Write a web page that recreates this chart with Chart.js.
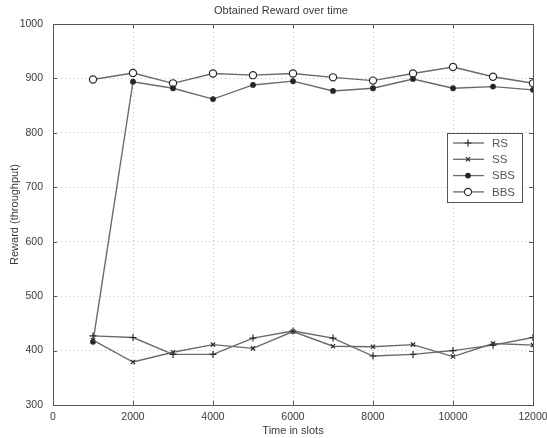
<!DOCTYPE html>
<html>
<head>
<meta charset="utf-8">
<script src="https://cdn.jsdelivr.net/npm/chart.js@4.4.1/dist/chart.umd.min.js"></script>
<style>
  html, body { margin: 0; padding: 0; background: #fff; }
  #wrap { width: 547px; height: 438px; }
</style>
</head>
<body>
<div id="wrap"><canvas id="rewardChart" width="547" height="438"></canvas></div>
<script>
// values
const timeSlots = [1000, 2000, 3000, 4000, 5000, 6000, 7000, 8000, 9000, 10000, 11000, 12000];
const rsValues  = [427, 424, 393, 393, 423, 436, 423, 390, 393, 400, 410, 424];
const ssValues  = [419, 379, 397, 411, 404, 435, 408, 407, 411, 389, 413, 410];
const sbsValues = [416, 894, 882, 862, 888, 895, 877, 882, 899, 882, 885, 879];
const bbsValues = [898, 910, 891, 909, 906, 909, 902, 896, 909, 921, 903, 891];
const xTicks = [0, 2000, 4000, 6000, 8000, 10000, 12000];
const yTicks = [300, 400, 500, 600, 700, 800, 900, 1000];

const FONT = "'Liberation Sans', Arial, sans-serif";
const LINE = '#6a6a6a';
const INK = '#3a3a3a';

function pts(vals) {
  return vals.map((v, i) => ({ x: timeSlots[i], y: v }));
}

const series = [
  { label: 'RS',  data: rsValues,  style: 'cross',    radius: 3.5, fill: INK },
  { label: 'SS',  data: ssValues,  style: 'crossRot', radius: 3,   fill: INK },
  { label: 'SBS', data: sbsValues, style: 'circle',   radius: 2.3, fill: '#222' },
  { label: 'BBS', data: bbsValues, style: 'circle',   radius: 3.6, fill: '#fff' },
];

// frame, inward ticks, title and the legend box, MATLAB style
const extras = {
  id: 'extras',
  afterDraw(chart) {
    const ctx = chart.ctx;
    const a = chart.chartArea;
    const xs = chart.scales.x, ys = chart.scales.y;
    ctx.save();
    ctx.strokeStyle = '#555';
    ctx.lineWidth = 1;
    ctx.strokeRect(a.left + 0.5, a.top + 0.5, a.right - a.left, a.bottom - a.top);
    ctx.beginPath();
    xTicks.forEach(t => {
      const px = Math.round(xs.getPixelForValue(t)) + 0.5;
      ctx.moveTo(px, a.bottom); ctx.lineTo(px, a.bottom - 4);
      ctx.moveTo(px, a.top); ctx.lineTo(px, a.top + 4);
    });
    yTicks.forEach(t => {
      const py = Math.round(ys.getPixelForValue(t)) + 0.5;
      ctx.moveTo(a.left, py); ctx.lineTo(a.left + 4, py);
      ctx.moveTo(a.right, py); ctx.lineTo(a.right - 4, py);
    });
    ctx.stroke();

    // title
    ctx.fillStyle = INK;
    ctx.font = '11px ' + FONT;
    ctx.textAlign = 'center';
    ctx.textBaseline = 'middle';
    ctx.fillText('Obtained Reward over time', 281, 11);

    // legend
    const bx = 447, by = 133, bw = 75, bh = 69;
    ctx.fillStyle = '#fff';
    ctx.fillRect(bx, by, bw, bh);
    ctx.strokeStyle = '#555';
    ctx.strokeRect(bx + 0.5, by + 0.5, bw, bh);
    ctx.font = '11.5px ' + FONT;
    ctx.textAlign = 'left';
    chart.data.datasets.forEach((ds, i) => {
      const y = by + 10 + i * 16.3;
      ctx.strokeStyle = LINE;
      ctx.lineWidth = 1.3;
      ctx.beginPath();
      ctx.moveTo(bx + 6, y); ctx.lineTo(bx + 37, y);
      ctx.stroke();
      ctx.strokeStyle = '#2a2a2a';
      ctx.fillStyle = ds.pointBackgroundColor;
      ctx.lineWidth = 1.2;
      Chart.helpers.drawPoint(ctx, {
        pointStyle: ds.pointStyle, radius: ds.pointRadius, borderWidth: 1.2, rotation: 0
      }, bx + 21, y);
      ctx.fillStyle = '#555';
      ctx.fillText(ds.label, bx + 45, y + 0.5);
    });
    ctx.restore();
  }
};

const plain = v => String(v);

new Chart(document.getElementById('rewardChart'), {
  type: 'line',
  data: {
    datasets: series.map(s => ({
      label: s.label,
      data: pts(s.data),
      borderColor: LINE,
      borderWidth: 1.4,
      pointStyle: s.style,
      pointRadius: s.radius,
      pointBorderColor: '#2a2a2a',
      pointBackgroundColor: s.fill,
      pointBorderWidth: 1.2,
      tension: 0,
    }))
  },
  options: {
    responsive: false,
    animation: false,
    layout: { padding: { top: 24, right: 0, left: 0, bottom: 0 } },
    plugins: {
      legend: { display: false },
      title: { display: false },
      tooltip: { enabled: false },
    },
    scales: {
      x: {
        type: 'linear',
        min: 0, max: 12000,
        afterBuildTicks: sc => { sc.ticks = xTicks.map(v => ({ value: v })); },
        afterFit: sc => { sc.height = 33; sc.paddingRight = 14; sc.paddingLeft = 0; },
        grid: { color: '#c4c4c4', lineWidth: 1, drawTicks: false },
        border: { display: false, dash: [1, 3] },
        ticks: { color: INK, font: { family: FONT, size: 10.5 }, padding: 6, maxRotation: 0, callback: plain },
        title: { display: true, text: 'Time in slots', color: INK, font: { family: FONT, size: 11 }, padding: { top: 1, bottom: 0 } },
      },
      y: {
        type: 'linear',
        min: 300, max: 1000,
        afterBuildTicks: sc => { sc.ticks = yTicks.map(v => ({ value: v })); },
        afterFit: sc => { sc.width = 53; },
        grid: { color: '#c4c4c4', lineWidth: 1, drawTicks: false },
        border: { display: false, dash: [1, 3] },
        ticks: { color: INK, font: { family: FONT, size: 10.5 }, padding: 10, callback: plain },
        title: { display: true, text: 'Reward (throughput)', color: INK, font: { family: FONT, size: 11 }, padding: { top: 8, bottom: 0 } },
      },
    },
  },
  plugins: [extras],
});
</script>
</body>
</html>
